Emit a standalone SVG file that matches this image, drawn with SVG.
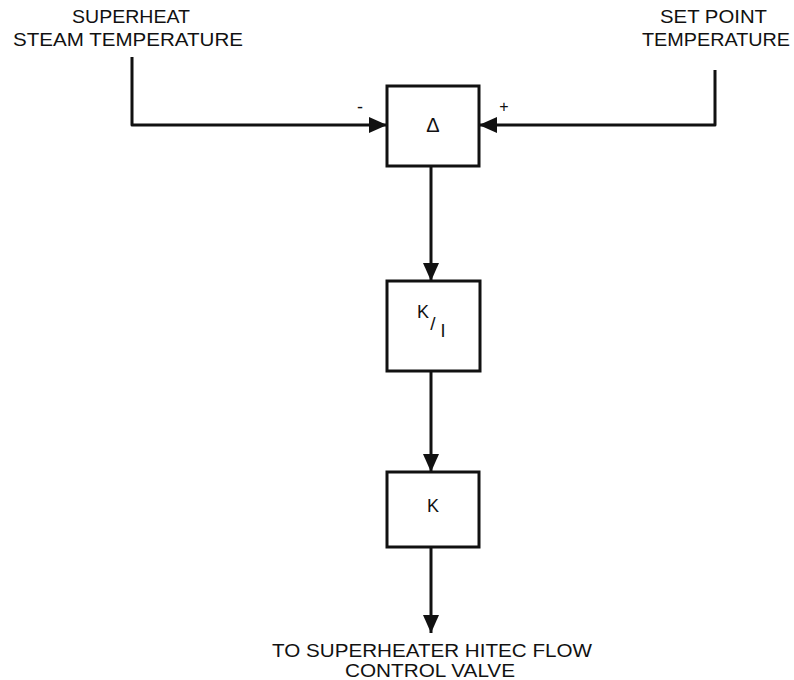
<svg xmlns="http://www.w3.org/2000/svg" width="794" height="680" viewBox="0 0 794 680">
<style>
.lbl{font-family:"Liberation Sans","DejaVu Sans",sans-serif;font-size:19px;fill:#111;}
.box{fill:#fff;stroke:#111;stroke-width:3;}
.wire{fill:none;stroke:#111;stroke-width:3;stroke-linejoin:round;}
.sym{font-family:"Liberation Sans","DejaVu Sans",sans-serif;fill:#111;}
</style>
<defs>
<marker id="ah" markerUnits="userSpaceOnUse" markerWidth="20" markerHeight="16" refX="18" refY="8" orient="auto">
<path d="M0,0 L18,8 L0,16 Z" fill="#111"/>
</marker>
</defs>
<rect width="794" height="680" fill="#fff"/>
<g id="labels">
<text class="lbl" x="72" y="23" textLength="118" lengthAdjust="spacingAndGlyphs">SUPERHEAT</text>
<text class="lbl" x="13" y="46" textLength="230" lengthAdjust="spacingAndGlyphs">STEAM TEMPERATURE</text>
<text class="lbl" x="660" y="23" textLength="107" lengthAdjust="spacingAndGlyphs">SET POINT</text>
<text class="lbl" x="642" y="46" textLength="148" lengthAdjust="spacingAndGlyphs">TEMPERATURE</text>
<text class="lbl" x="272" y="657" textLength="320" lengthAdjust="spacingAndGlyphs">TO SUPERHEATER HITEC FLOW</text>
<text class="lbl" x="345" y="677" textLength="170" lengthAdjust="spacingAndGlyphs">CONTROL VALVE</text>
<text class="sym" x="360" y="113" text-anchor="middle" font-size="18">-</text>
<text class="sym" x="504" y="112" text-anchor="middle" font-size="16">+</text>
</g>
<g id="connectors">
<path class="wire" d="M132,57 V125 H387" marker-end="url(#ah)"/>
<path class="wire" d="M715,70 V125 H479" marker-end="url(#ah)"/>
<path class="wire" d="M431,166 V281" marker-end="url(#ah)"/>
<path class="wire" d="M431,371 V472" marker-end="url(#ah)"/>
<path class="wire" d="M431,547 V633" marker-end="url(#ah)"/>
</g>
<g id="delta">
<rect class="box" x="387" y="86" width="92" height="80"/>
<text class="sym" x="433" y="132" text-anchor="middle" font-size="20">Δ</text>
</g>
<g id="integrator">
<rect class="box" x="387" y="281" width="93" height="90"/>
<text class="sym" x="423" y="318" text-anchor="middle" font-size="18">K</text>
<text class="sym" x="433" y="330" text-anchor="middle" font-size="19">/</text>
<text class="sym" x="443" y="337" text-anchor="middle" font-size="18">I</text>
</g>
<g id="gain">
<rect class="box" x="387" y="472" width="92" height="75"/>
<text class="sym" x="433" y="512" text-anchor="middle" font-size="18">K</text>
</g>
</svg>
